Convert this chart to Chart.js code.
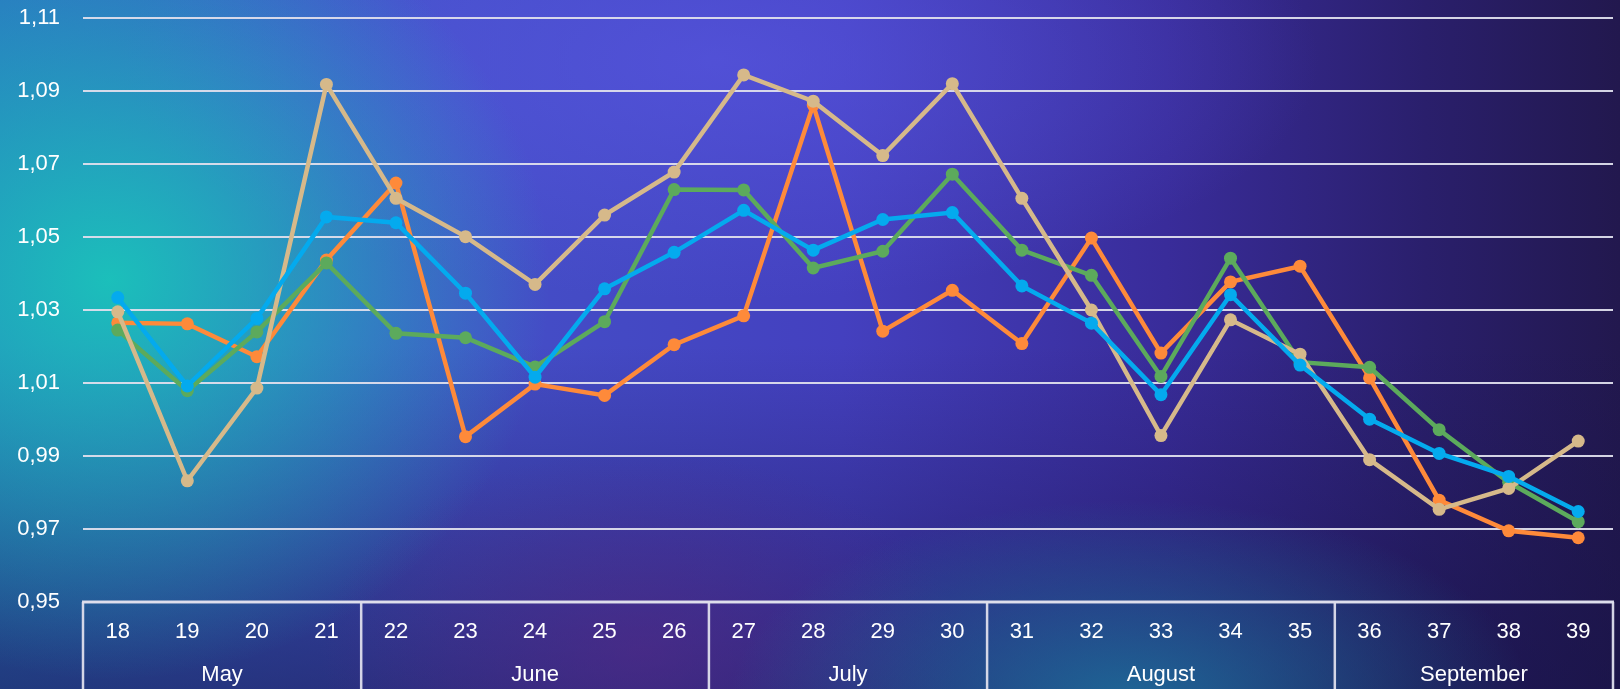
<!DOCTYPE html>
<html>
<head>
<meta charset="utf-8">
<script src="https://cdn.jsdelivr.net/npm/chart.js@4/dist/chart.umd.min.js"></script>
<style>
  html, body { margin: 0; padding: 0; }
  body { width: 1620px; height: 689px; overflow: hidden; }
  .wrap {
    position: relative; width: 1620px; height: 689px;
    background:
      radial-gradient(ellipse 440px 400px at 110px 280px, rgba(26,196,186,0.95), rgba(26,196,186,0) 100%),
      radial-gradient(ellipse 400px 200px at 1130px 700px, rgba(28,120,160,0.8), rgba(28,120,160,0) 100%),
      radial-gradient(ellipse 600px 240px at 720px 60px, rgba(90,88,228,0.6), rgba(90,88,228,0) 100%),
      radial-gradient(ellipse 320px 200px at 640px 650px, rgba(90,40,135,0.55), rgba(90,40,135,0) 100%),
      linear-gradient(to bottom, rgba(0,0,0,0) 50%, rgba(22,18,70,0.55) 100%),
      linear-gradient(to right, #2d6cc2 0%, #4450c8 28%, #4440bf 52%, #392c9a 72%, #2a1f6c 88%, #22184e 100%);
  }
  canvas { position: absolute; left: 0; top: 0; }
</style>
</head>
<body>
<div class="wrap">
  <canvas id="weekChart" width="1620" height="689"></canvas>
</div>
<script>
const weeks = ["18","19","20","21","22","23","24","25","26","27","28","29","30","31","32","33","34","35","36","37","38","39"]
const monthNames = ["May","June","July","August","September"]
const monthWeeks = [4, 5, 4, 5, 4]

const orangeValues = [1.0265, 1.0262, 1.0172, 1.0437, 1.0648, 0.9953, 1.0097, 1.0066, 1.0205, 1.0284, 1.0862, 1.0242, 1.0354, 1.0208, 1.0497, 1.0182, 1.0377, 1.0420, 1.0114, 0.9779, 0.9695, 0.9676]
const greenValues = [1.0245, 1.0079, 1.0240, 1.0429, 1.0236, 1.0224, 1.0144, 1.0268, 1.0630, 1.0629, 1.0415, 1.0461, 1.0672, 1.0464, 1.0395, 1.0118, 1.0442, 1.0157, 1.0143, 0.9972, 0.9828, 0.9720]
const blueValues = [1.0334, 1.0092, 1.0277, 1.0555, 1.0539, 1.0346, 1.0116, 1.0358, 1.0458, 1.0573, 1.0464, 1.0548, 1.0567, 1.0366, 1.0264, 1.0068, 1.0342, 1.0149, 1.0001, 0.9907, 0.9844, 0.9748]
const tanValues = [1.0295, 0.9832, 1.0086, 1.0918, 1.0606, 1.0501, 1.0370, 1.0560, 1.0678, 1.0944, 1.0872, 1.0723, 1.0920, 1.0606, 1.0300, 0.9956, 1.0273, 1.0179, 0.9890, 0.9754, 0.9811, 0.9941]

const yMin = 0.95
const yMax = 1.11
const yStep = 0.02

const lineColor = "rgba(222,222,236,0.95)"
const fontFamily = "'Liberation Sans', Arial, sans-serif"

// box under the plot + month names centred on their weeks
const monthAxis = {
  id: "monthAxis",
  afterDraw(chart) {
    const ctx = chart.ctx
    const x = chart.scales.x
    const area = chart.chartArea
    const half = (x.getPixelForValue(1) - x.getPixelForValue(0)) / 2
    ctx.save()
    ctx.strokeStyle = lineColor
    ctx.lineWidth = 3
    ctx.beginPath()
    ctx.moveTo(x.left - 1, area.bottom)
    ctx.lineTo(x.right + 1, area.bottom)
    ctx.stroke()

    ctx.lineWidth = 2.5
    ctx.fillStyle = "#ffffff"
    ctx.font = "22px " + fontFamily
    ctx.textAlign = "center"
    ctx.textBaseline = "middle"
    let start = 0
    monthWeeks.forEach((count, i) => {
      const left = x.getPixelForValue(start) - half
      ctx.beginPath()
      ctx.moveTo(left, area.bottom)
      ctx.lineTo(left, chart.height)
      ctx.stroke()
      const mid = (x.getPixelForValue(start) + x.getPixelForValue(start + count - 1)) / 2
      ctx.fillText(monthNames[i], mid, 675)
      start += count
    })
    ctx.beginPath()
    ctx.moveTo(x.right, area.bottom)
    ctx.lineTo(x.right, chart.height)
    ctx.stroke()
    ctx.restore()
  }
}

function series(data, color, order) {
  return {
    data: data,
    borderColor: color,
    backgroundColor: color,
    borderWidth: 4.5,
    pointRadius: 6.5,
    pointBorderWidth: 0,
    pointBackgroundColor: color,
    tension: 0,
    fill: false,
    order: order,
  }
}

const ctx = document.getElementById("weekChart").getContext("2d")
new Chart(ctx, {
  type: "line",
  data: {
    labels: weeks,
    datasets: [
      series(orangeValues, "#fe8a3a", 3),
      series(greenValues, "#5caa5c", 2),
      series(blueValues, "#04aaee", 0),
      series(tanValues, "#d6b98a", 1),
    ],
  },
  options: {
    responsive: false,
    animation: false,
    devicePixelRatio: 1,
    layout: { padding: { top: 18, right: 7, left: 0, bottom: 0 } },
    plugins: {
      legend: { display: false },
      tooltip: { enabled: false },
    },
    scales: {
      x: {
        offset: true,
        grid: { display: false, drawTicks: false },
        border: { display: false },
        ticks: {
          color: "#ffffff",
          font: { size: 22, family: fontFamily },
          padding: 17,
          maxRotation: 0,
          autoSkip: false,
        },
        afterFit(scale) { scale.height = 87 },
      },
      y: {
        min: yMin,
        max: yMax,
        grid: { color: lineColor, lineWidth: 2, drawTicks: false },
        border: { display: false },
        ticks: {
          stepSize: yStep,
          color: "#ffffff",
          font: { size: 22, family: fontFamily },
          padding: 23,
          callback: (v) => v.toFixed(2).replace(".", ","),
        },
        afterFit(scale) {
          scale.width = 83
          scale.paddingTop = 0
          scale.paddingBottom = 0
        },
      },
    },
  },
  plugins: [monthAxis],
})
</script>
</body>
</html>
